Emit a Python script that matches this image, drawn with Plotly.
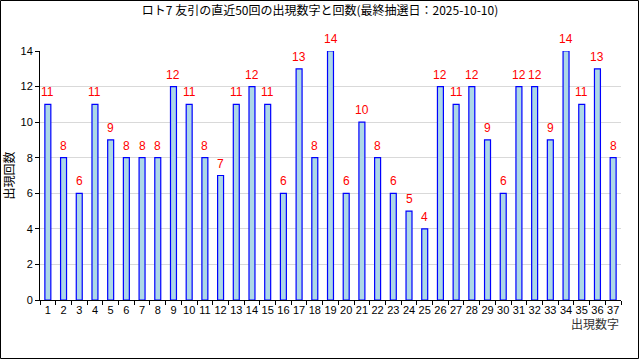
import plotly.graph_objects as go

numbers = [str(i) for i in range(1, 38)]
counts = [11, 8, 6, 11, 9, 8, 8, 8, 12, 11, 8, 7, 11, 12, 11, 6, 13, 8, 14, 6,
          10, 8, 6, 5, 4, 12, 11, 12, 9, 6, 12, 12, 9, 14, 11, 13, 8]
y_ticks = [0, 2, 4, 6, 8, 10, 12, 14]

W, H = 640, 360
L, R, T, B = 40, 19, 51, 60
pw, ph = W - L - R, H - T - B

fig = go.Figure()
fig.add_trace(go.Bar(
    x=numbers, y=counts,
    marker=dict(color="#ADD8E6", line=dict(color="#0000FF", width=1.2)),
    width=0.38,
    hoverinfo="skip",
))

# category axis: annotation x given as category index
value_labels = [dict(x=i, y=c, xref="x", yref="y", text=str(c), showarrow=False,
                     xanchor="center", yanchor="bottom", yshift=3,
                     font=dict(color="#FF0000", size=12, family="Liberation Sans"))
                for i, c in enumerate(counts)]

fig.update_layout(
    width=W, height=H,
    margin=dict(l=L, r=R, t=T, b=B, autoexpand=False),
    paper_bgcolor="white", plot_bgcolor="white",
    showlegend=False,
    title=dict(text="ロト7 友引の直近50回の出現数字と回数(最終抽選日：2025-10-10)",
               x=0.5, xanchor="center", y=1 - 11 / H, yanchor="middle",
               automargin=False,
               font=dict(size=12, family="Noto Sans CJK JP", color="#000")),
    font=dict(family="Liberation Sans", size=11, color="#000"),
    xaxis=dict(type="category", range=[-0.5, 36.5], showline=True, linecolor="#000",
               linewidth=1, ticks="outside", tickson="boundaries", ticklen=4,
               tickcolor="#000", showgrid=False, tickangle=0, automargin=False,
               tickfont=dict(size=11, family="Liberation Sans")),
    yaxis=dict(range=[0, 14], tickvals=y_ticks, showline=True, linecolor="#000",
               linewidth=1, ticks="outside", ticklen=4, tickcolor="#000",
               showgrid=True, gridcolor="#D9D9D9", gridwidth=1, automargin=False,
               tickfont=dict(size=11, family="Liberation Sans"),
               title=dict(text="出現回数", standoff=10,
                          font=dict(size=12, family="Noto Sans CJK JP"))),
    shapes=[dict(type="rect", xref="paper", yref="paper",
                 x0=(0.5 - L) / pw, x1=(W - 1.5 - L) / pw,
                 y0=-(B - 1.5) / ph,
                 y1=(ph + T - 0.5) / ph,
                 line=dict(color="#000", width=1))],
    annotations=value_labels + [dict(text="出現数字", xref="paper", yref="paper",
                      x=(621 - L) / pw, y=-(323 - (H - B)) / ph,
                      xanchor="right", yanchor="middle", showarrow=False,
                      font=dict(size=12, family="Noto Sans CJK JP", color="#333"))],
)

fig.write_html("out.html", config={"displayModeBar": False},
               post_script="document.body.style.margin='0';document.body.style.overflow='hidden';")
